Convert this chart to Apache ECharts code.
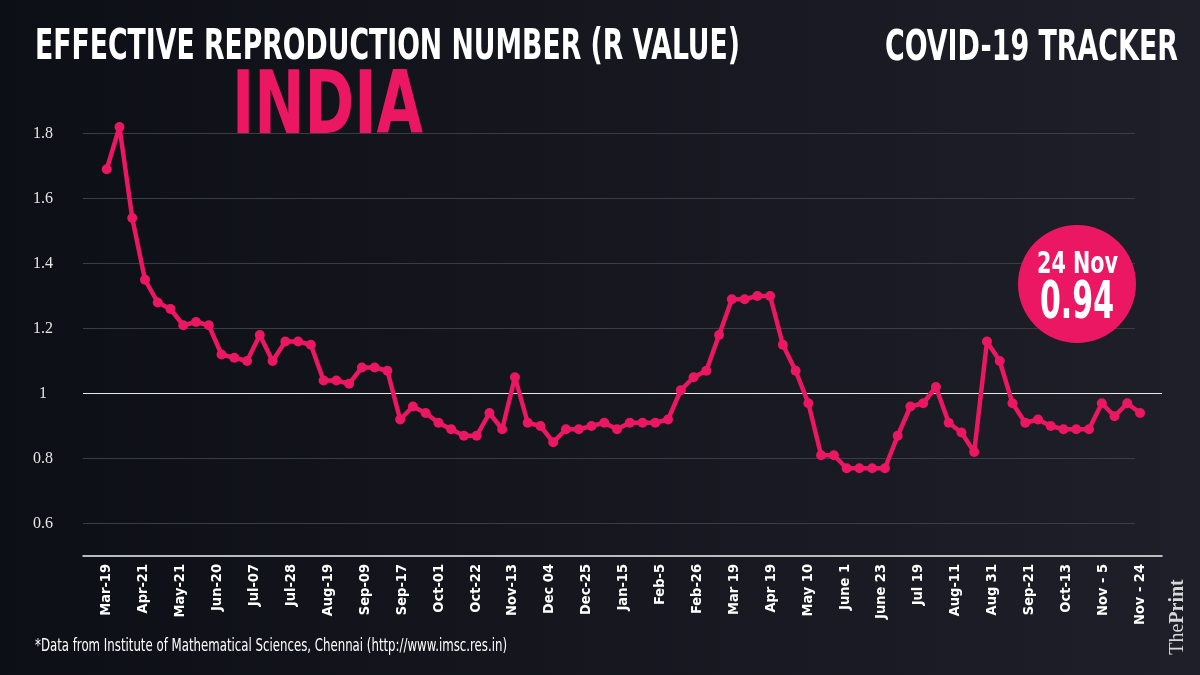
<!DOCTYPE html>
<html>
<head>
<meta charset="utf-8">
<script src="https://cdn.jsdelivr.net/npm/echarts@6/dist/echarts.min.js"></script>
<style>
html,body{margin:0;padding:0;background:#14161e;}
#c{width:1200px;height:675px;}
</style>
</head>
<body>
<div id="c"></div>
<script>
// ---- data ----
const rValues = [
  1.69,1.82,1.54,1.35,1.28,1.26,1.21,1.22,1.21,1.12,
  1.11,1.10,1.18,1.10,1.16,1.16,1.15,1.04,1.04,1.03,
  1.08,1.08,1.07,0.92,0.96,0.94,0.91,0.89,0.87,0.87,
  0.94,0.89,1.05,0.91,0.90,0.85,0.89,0.89,0.90,0.91,
  0.89,0.91,0.91,0.91,0.92,1.01,1.05,1.07,1.18,1.29,
  1.29,1.30,1.30,1.15,1.07,0.97,0.81,0.81,0.77,0.77,
  0.77,0.77,0.87,0.96,0.97,1.02,0.91,0.88,0.82,1.16,
  1.10,0.97,0.91,0.92,0.90,0.89,0.89,0.89,0.97,0.93,
  0.97,0.94
];
const xLabels = ['Mar-19','Apr-21','May-21','Jun-20','Jul-07','Jul-28','Aug-19','Sep-09','Sep-17','Oct-01',
  'Oct-22','Nov-13','Dec 04','Dec-25','Jan-15','Feb-5','Feb-26','Mar 19','Apr 19','May 10',
  'June 1','June 23','Jul 19','Aug-11','Aug 31','Sep-21','Oct-13','Nov - 5','Nov - 24'];
const yTicks = [0.6, 0.8, 1, 1.2, 1.4, 1.6, 1.8];
const latestDate = '24 Nov';
const latestValue = '0.94';

// ---- layout helpers ----
const pink = '#EC1762';
const lastIdx = rValues.length - 1;
const labelStep = lastIdx / (xLabels.length - 1);
const labelPos = xLabels.map((_, i) => i * labelStep);
const xMin = -1.86, xMax = 82.72, grayEnd = 80.6;

const cnv = document.createElement('canvas').getContext('2d');
function fit(text, font, w) { cnv.font = font; return w / cnv.measureText(text).width; }
const COND = '"DejaVu Sans Condensed","DejaVu Sans",sans-serif';

function txt(text, x, y, size, w, align, color, weight) {
  const font = (weight || 'bold') + ' ' + size + 'px ' + COND;
  return {
    type: 'text', x: x, y: y, scaleX: fit(text, font, w), z: 100,
    style: { text: text, font: font, fill: color, align: align, verticalAlign: 'middle' }
  };
}

const chart = echarts.init(document.getElementById('c'));
chart.setOption({
  backgroundColor: new echarts.graphic.LinearGradient(0, 0, 1, 0, [
    { offset: 0, color: '#0d0f16' }, { offset: 1, color: '#1e1f28' }
  ]),
  animation: false,
  grid: { left: 83, right: 38, top: 101, bottom: 119 },
  xAxis: {
    type: 'value', min: xMin, max: xMax,
    splitLine: { show: false },
    axisTick: { show: false },
    axisLine: { onZero: false, lineStyle: { color: '#f2f2f2', width: 1.5 } },
    axisLabel: {
      customValues: labelPos,
      rotate: 90, margin: 8, color: '#ffffff',
      fontFamily: COND, fontWeight: 'bold', fontSize: 14.5,
      formatter: function (v) {
        const k = Math.round(v / labelStep);
        return xLabels[k] || '';
      }
    }
  },
  yAxis: {
    type: 'value', min: 0.5, max: 1.9,
    splitLine: { show: false },
    axisLine: { show: false },
    axisTick: { show: false },
    axisLabel: {
      customValues: yTicks, align: 'center', margin: 40,
      color: '#e6e6e6', fontFamily: '"Liberation Serif",serif', fontSize: 16,
      formatter: function (v) { return String(Math.round(v * 10) / 10); }
    }
  },
  series: [
    {
      type: 'line', z: 1, silent: true,
      data: rValues.map((v, i) => [i, v]),
      symbol: 'none', lineStyle: { width: 0, opacity: 0 },
      markLine: {
        silent: true, symbol: 'none', label: { show: false },
        data: yTicks.filter(v => v !== 1).map(v => [
          { coord: [xMin, v], lineStyle: { color: '#3a3c46', width: 1, type: 'solid' } },
          { coord: [grayEnd, v] }
        ]).concat([{ yAxis: 1, lineStyle: { color: '#e8e8e8', width: 1.2, type: 'solid' } }])
      }
    },
    {
      type: 'line', z: 5,
      data: rValues.map((v, i) => [i, v]),
      symbol: 'circle', symbolSize: 10,
      itemStyle: { color: pink },
      lineStyle: { color: pink, width: 4.5 }
    }
  ],
  graphic: [
    txt('EFFECTIVE REPRODUCTION NUMBER (R VALUE)', 35, 48, 42, 705, 'left', '#ffffff'),
    txt('COVID-19 TRACKER', 1178, 49, 42, 293, 'right', '#ffffff'),
    txt('INDIA', 232, 110, 88, 191, 'left', pink),
    { type: 'circle', shape: { cx: 1077, cy: 284, r: 59 }, style: { fill: pink }, z: 90 },
    txt(latestDate, 1077.5, 265, 30, 81, 'center', '#ffffff'),
    txt(latestValue, 1077, 304, 52, 74, 'center', '#ffffff'),
    txt('*Data from Institute of Mathematical Sciences, Chennai (http://www.imsc.res.in)', 35, 647, 17, 472, 'left', '#ffffff', 'normal'),
    {
      type: 'text', x: 1178, y: 617, rotation: Math.PI / 2, z: 100,
      style: {
        text: '{a|The}{b|Print}', align: 'center', verticalAlign: 'middle',
        rich: {
          a: { fontFamily: '"Liberation Serif",serif', fontSize: 20, fill: '#d8d8d8', color: '#d8d8d8' },
          b: { fontFamily: '"Liberation Serif",serif', fontSize: 20, fontWeight: 'bold', fill: '#d8d8d8', color: '#d8d8d8' }
        }
      }
    }
  ]
});
</script>
</body>
</html>
